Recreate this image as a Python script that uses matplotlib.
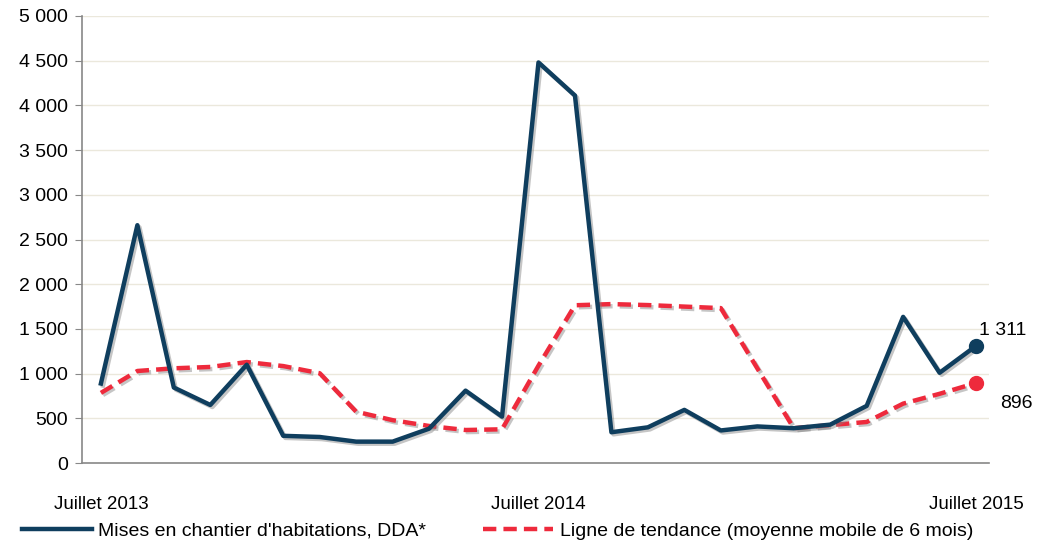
import matplotlib
matplotlib.use("Agg")
import matplotlib.pyplot as plt
import matplotlib.patheffects as pe
from matplotlib.lines import Line2D

plt.rcParams['font.family'] = ['Liberation Sans', 'DejaVu Sans']

# Data (monthly, Juillet 2013 -> Juillet 2015)
months = list(range(25))
xtick_pos = [0, 12, 24]
xtick_labels = ["Juillet 2013", "Juillet 2014", "Juillet 2015"]
mises_en_chantier = [890, 2660, 845, 650, 1100, 305, 292, 240, 240, 385, 810,
                     520, 4480, 4110, 345, 400, 595, 365, 410, 390, 430,
                     640, 1635, 1010, 1311]
tendance = [785, 1030, 1060, 1075, 1130, 1085, 1005, 575, 480, 415, 370,
            378, 1090, 1765, 1778, 1767, 1750, 1733, 1060, 390, 425,
            460, 665, 775, 896]
label_serie = "Mises en chantier d'habitations, DDA*"
label_tendance = "Ligne de tendance (moyenne mobile de 6 mois)"
yticks = [0, 500, 1000, 1500, 2000, 2500, 3000, 3500, 4000, 4500, 5000]

blue = '#0f3e5e'
red = '#ee2a3c'

fig = plt.figure(figsize=(10.4, 5.5), dpi=100)
ax = fig.add_axes([0.0788, 0.158, 0.872, 0.813])

shadow = [pe.SimpleLineShadow(offset=(1.5, -1.5), shadow_color='gray', alpha=0.45), pe.Normal()]

ax.plot(months, tendance, color=red, lw=3.2, ls=(0, (3, 1.6)), path_effects=shadow, zorder=3)
ax.plot(months, mises_en_chantier, color=blue, lw=3.2, path_effects=shadow, zorder=4)
ax.plot(months[-1], mises_en_chantier[-1], 'o', color=blue, ms=10, zorder=5)
ax.plot(months[-1], tendance[-1], 'o', color=red, ms=10, zorder=5)

def fmt(v):
    return f"{v:,}".replace(",", "\u2009 ")[:0] + f"{v:,}".replace(",", " ")

ax.annotate(fmt(mises_en_chantier[-1]), (months[-1], mises_en_chantier[-1]),
            xytext=(2, 5), textcoords='offset points', fontsize=14, ha='left', va='bottom')
ax.annotate(fmt(tendance[-1]), (months[-1], tendance[-1]),
            xytext=(17, -15), textcoords='offset points', fontsize=14, ha='left', va='center')

ax.set_xlim(-0.52, 24.35)
ax.set_ylim(0, 5000)
ax.set_yticks(yticks)
ax.set_yticklabels([fmt(v) for v in yticks], fontsize=14)
ax.set_xticks(xtick_pos)
ax.set_xticklabels(xtick_labels, fontsize=13.5)
ax.tick_params(axis='x', length=0, pad=24)
ax.tick_params(axis='y', length=5, color='#888888', pad=5)
ax.grid(axis='y', color='#ebe8dc', lw=1)
ax.set_axisbelow(True)
for s in ['top', 'right']:
    ax.spines[s].set_visible(False)
ax.spines['left'].set_color('#888888')
ax.spines['bottom'].set_color('#888888')
ax.spines['left'].set_linewidth(1.2)
ax.spines['bottom'].set_linewidth(1.2)

handles = [Line2D([], [], color=blue, lw=3.2),
           Line2D([], [], color=red, lw=3.2, ls=(0, (3, 1.6)))]
fig.legend(handles, [label_serie, label_tendance], loc='center left',
           bbox_to_anchor=(0.004, 0.035), ncol=2, frameon=False, fontsize=14,
           handlelength=3.6, handletextpad=0.35, columnspacing=2.9)

fig.savefig("out.png", dpi=100)
